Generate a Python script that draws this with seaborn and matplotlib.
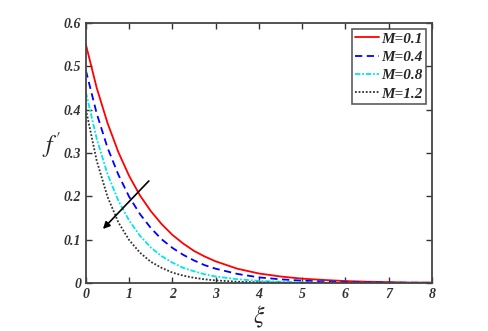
import numpy as np
import pandas as pd
import seaborn as sns
import matplotlib.pyplot as plt

# values
xi = [0, 0.25, 0.5, 0.75, 1, 1.25, 1.5, 1.75, 2, 2.25, 2.5, 2.75, 3,
      3.5, 4, 4.5, 5, 5.5, 6, 6.5, 7, 7.5, 8]
f_m01 = [0.550, 0.450, 0.369, 0.302, 0.247, 0.202, 0.166, 0.136, 0.111, 0.091, 0.074, 0.061, 0.050,
         0.033, 0.022, 0.015, 0.010, 0.007, 0.0045, 0.003, 0.002, 0.001, 0.001]
f_m04 = [0.490, 0.391, 0.312, 0.250, 0.199, 0.159, 0.127, 0.101, 0.081, 0.065, 0.052, 0.041, 0.033,
         0.021, 0.013, 0.0085, 0.0054, 0.0035, 0.0022, 0.0014, 0.0009, 0.0006, 0.0004]
f_m08 = [0.440, 0.333, 0.251, 0.190, 0.144, 0.109, 0.082, 0.062, 0.047, 0.035, 0.027, 0.020, 0.015,
         0.0087, 0.005, 0.0028, 0.0016, 0.0009, 0.0005, 0.0003, 0.0002, 0.0001, 0.0001]
f_m12 = [0.400, 0.282, 0.199, 0.140, 0.099, 0.070, 0.049, 0.035, 0.024, 0.017, 0.012, 0.0085, 0.006,
         0.003, 0.0015, 0.0007, 0.0004, 0.0002, 0.0001, 0.0, 0.0, 0.0, 0.0]
labels = ['M=0.1', 'M=0.4', 'M=0.8', 'M=1.2']
colors = ['#ff0000', '#0000ff', '#00e5ee', '#303030']

df = pd.concat([pd.DataFrame({'xi': xi, 'f': v, 'M': lab})
                for v, lab in zip([f_m01, f_m04, f_m08, f_m12], labels)])

sns.set_style('ticks')
plt.rcParams['font.family'] = ['Liberation Serif', 'DejaVu Serif']
plt.rcParams['mathtext.fontset'] = 'stix'

fig = plt.figure(figsize=(4.88, 3.31), dpi=100)
ax = fig.add_axes([0.176, 0.145, 0.709, 0.786])

sns.lineplot(data=df, x='xi', y='f', hue='M', style='M',
             palette=dict(zip(labels, colors)),
             dashes={'M=0.1': '', 'M=0.4': (4, 2.5), 'M=0.8': (3, 1, 1, 1), 'M=1.2': (1, 1)},
             linewidth=1.3, ax=ax)

ax.set_xlim(0, 8)
ax.set_ylim(0, 0.6)
ax.set_xticks(range(0, 9))
ax.set_yticks([0, 0.1, 0.2, 0.3, 0.4, 0.5, 0.6])
ax.set_yticklabels(['0', '0.1', '0.2', '0.3', '0.4', '0.5', '0.6'])
ax.tick_params(direction='in', top=True, right=True, length=4, width=1,
               labelsize=10, colors='#333333')
for lab in ax.get_xticklabels() + ax.get_yticklabels():
    lab.set_fontstyle('italic')
    lab.set_fontweight('bold')
for s in ax.spines.values():
    s.set_color('#444444')
    s.set_linewidth(1.3)

ax.set_xlabel(r'$\xi$', fontsize=17, labelpad=2)
ax.set_ylabel(r"$f\,'$", fontsize=17, rotation=0, labelpad=12)
ax.yaxis.set_label_coords(-0.1, 0.47)

ax.annotate('', xy=(0.35, 0.12), xytext=(1.5, 0.24),
            arrowprops=dict(arrowstyle='-|>', color='black', lw=1.2, mutation_scale=10))

leg = ax.legend(title=None, loc='upper right', fontsize=11, frameon=True, fancybox=False,
                edgecolor='#333333', handlelength=1.6, handletextpad=0.15,
                borderpad=0.2, labelspacing=0.3, borderaxespad=0.4)
leg.get_frame().set_linewidth(1.2)
for t in leg.get_texts():
    t.set_fontstyle('italic')
    t.set_fontweight('bold')

fig.savefig('out.png', dpi=100)
